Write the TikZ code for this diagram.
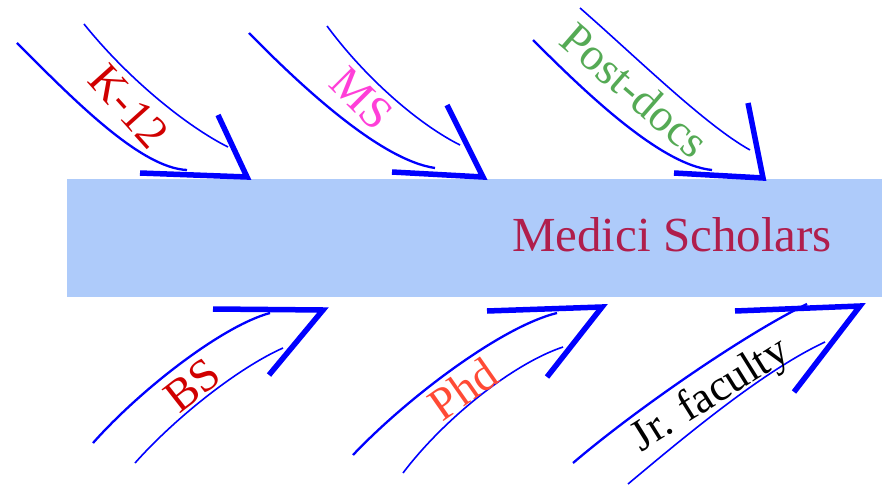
\documentclass[tikz,border=0pt]{standalone}
\usepackage{fontspec}
\setmainfont{Liberation Serif}
\definecolor{barblue}{HTML}{AECBFA}
\definecolor{medici}{HTML}{B01E4C}
\definecolor{kred}{HTML}{D00000}
\definecolor{msmag}{HTML}{FF3FD8}
\definecolor{pdgreen}{HTML}{55AA55}
\definecolor{phdred}{HTML}{FF4A35}
\begin{document}
\begin{tikzpicture}[x=1pt,y=-1pt,
  outerline/.style={blue,line width=2.3pt},
  innerline/.style={blue,line width=1.6pt},
  headline/.style={blue,line width=5.5pt,line join=miter,miter limit=10},
  lbl/.style={inner sep=0pt,font=\fontsize{46}{50}\selectfont}]
\useasboundingbox (0,0) rectangle (882,486);
% main bar
\fill[barblue] (67,179) rectangle (882,297);
\node[inner sep=0pt,text=medici,font=\fontsize{49}{54}\selectfont] (main) at (672,235) {Medici Scholars};

% ---- K-12
\draw[outerline] (17,43) .. controls (72,98) and (140,168) .. (187,170);
\draw[innerline] (84,24) .. controls (129,80) and (188,127) .. (228,147);
\draw[headline] (140,173) -- (247,177) -- (218,115);
\node[lbl,text=kred,rotate=-48] (k12) at (129,106) {K-12};

% ---- MS
\draw[outerline] (249,33) .. controls (300,85) and (380,160) .. (435,168);
\draw[innerline] (327,26) .. controls (367,80) and (420,125) .. (460,145);
\draw[headline] (392,172) -- (483,177) -- (447,105);
\node[lbl,text=msmag,rotate=-45] (ms) at (362,98) {MS};

% ---- Post-docs
\draw[outerline] (533,40) .. controls (583,90) and (660,165) .. (712,170);
\draw[innerline] (580,8) .. controls (635,56) and (705,125) .. (750,150);
\draw[headline] (674,173) -- (763,178) -- (748,103);
\node[lbl,text=pdgreen,rotate=-41] (pd) at (635,90) {Post-docs};

% ---- BS
\draw[outerline] (93,443) .. controls (140,390) and (222,326) .. (270,313);
\draw[innerline] (135,463) .. controls (175,418) and (238,368) .. (283,348);
\draw[headline] (213,309) -- (323,310) -- (269,375);
\node[lbl,text=kred,rotate=38] (bs) at (192,385) {BS};

% ---- Phd
\draw[outerline] (353,455) .. controls (405,400) and (500,327) .. (557,313);
\draw[innerline] (403,473) .. controls (443,420) and (512,364) .. (563,347);
\draw[headline] (487,311) -- (602,307) -- (547,377);
\node[lbl,text=phdred,rotate=35] (phd) at (463,389) {Phd};

% ---- Jr. faculty
\draw[outerline] (573,463) .. controls (635,410) and (745,334) .. (807,304);
\draw[innerline] (628,484) .. controls (690,432) and (765,370) .. (825,342);
\draw[headline] (735,311) -- (860,306) -- (794,392);
\node[lbl,text=black,rotate=32,font=\fontsize{44}{48}\selectfont] (jr) at (711,396) {Jr. faculty};
\end{tikzpicture}
\end{document}
